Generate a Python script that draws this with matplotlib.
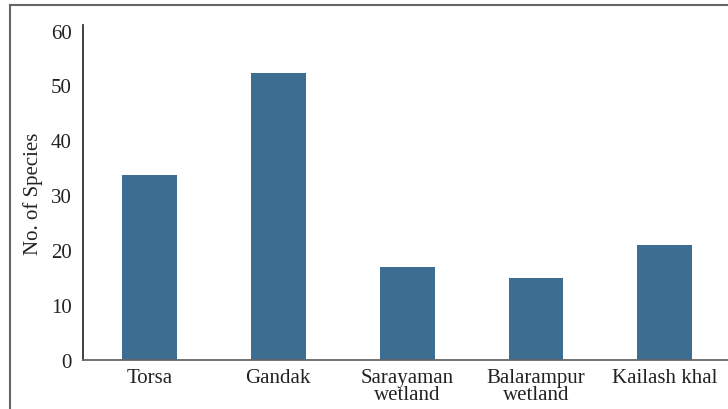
import numpy as np
import matplotlib.pyplot as plt
from matplotlib.lines import Line2D

sites = ["Torsa", "Gandak", "Sarayaman\nwetland", "Balarampur\nwetland", "Kailash khal"]
species = [33.7, 52.3, 17.0, 15.0, 21.0]
yticks = [0, 10, 20, 30, 40, 50, 60]

plt.rcParams["font.family"] = ["Liberation Serif", "DejaVu Serif"]

fig = plt.figure(figsize=(7.28, 4.10), dpi=100)
ax = fig.add_axes([0.114, 0.1195, 0.886, 0.817])

x = np.arange(len(sites))
ax.bar(x, species, width=0.426, color="#3d6d91")

ax.set_xlim(-0.515, 4.49)
ax.set_ylim(0, 61)
ax.set_yticks(yticks)
ax.set_xticks(x)
ax.set_xticklabels(sites, linespacing=0.85)
ax.tick_params(axis="both", length=0, labelsize=15, colors="#222222")
ax.tick_params(axis="y", pad=8)
ax.tick_params(axis="x", pad=6)
ax.set_ylabel("No. of Species", fontsize=15, color="#222222", labelpad=6)

for s in ["top", "right"]:
    ax.spines[s].set_visible(False)
ax.spines["left"].set_color("#333333")
ax.spines["left"].set_linewidth(1.3)
ax.spines["bottom"].set_color("#666666")
ax.spines["bottom"].set_linewidth(1.3)

# outer frame (top and left edges visible)
fig.add_artist(Line2D([10 / 728, 1.0], [1 - 6 / 410, 1 - 6 / 410], color="#666666", linewidth=1.5))
fig.add_artist(Line2D([10 / 728, 10 / 728], [0, 1 - 6 / 410], color="#666666", linewidth=1.5))

fig.savefig("out.png", dpi=100)
